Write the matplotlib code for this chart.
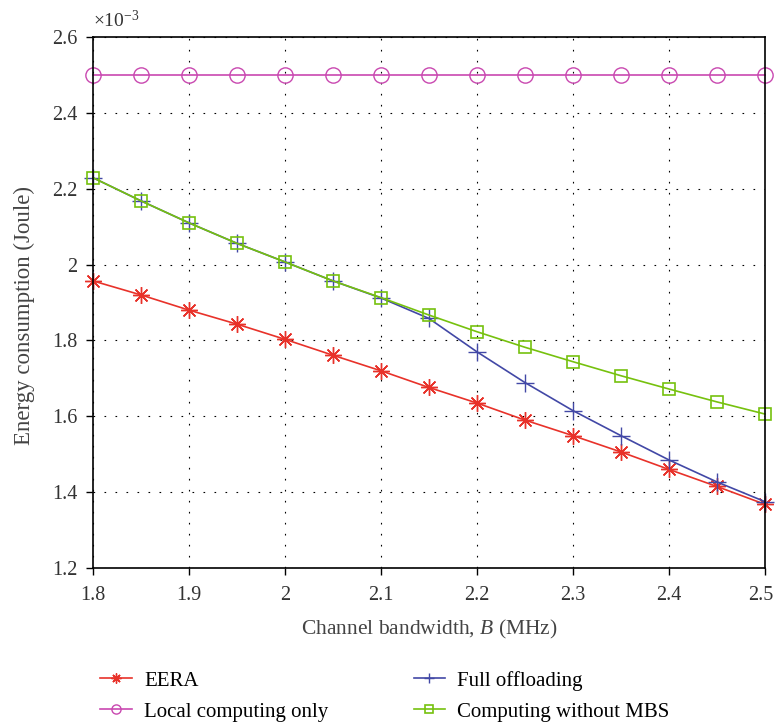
import numpy as np
import matplotlib
matplotlib.use("Agg")
import matplotlib.pyplot as plt
import matplotlib.transforms as mtransforms

plt.rcParams['font.family'] = ['Liberation Serif', 'DejaVu Serif']
plt.rcParams['mathtext.fontset'] = 'custom'
plt.rcParams['mathtext.rm'] = 'Liberation Serif'
plt.rcParams['mathtext.it'] = 'Liberation Serif:italic'

# bandwidth (MHz)
B = [1.80, 1.85, 1.90, 1.95, 2.00, 2.05, 2.10, 2.15, 2.20, 2.25, 2.30, 2.35, 2.40, 2.45, 2.50]

# energy consumption (x1e-3 Joule)
eera = [1.957, 1.920, 1.880, 1.843, 1.803, 1.761, 1.720, 1.676, 1.635, 1.590,
        1.549, 1.506, 1.460, 1.415, 1.368]
local = [2.5] * 15
full = [2.229, 2.168, 2.110, 2.056, 2.007, 1.957, 1.912, 1.858, 1.770, 1.689,
        1.615, 1.549, 1.485, 1.427, 1.375]
no_mbs = [2.229, 2.168, 2.110, 2.056, 2.007, 1.957, 1.913, 1.867, 1.823, 1.782,
          1.744, 1.707, 1.672, 1.638, 1.606]

fig = plt.figure(figsize=(7.75, 7.26), dpi=100)
ax = fig.add_axes([0.12, 0.2176, 0.867, 0.7314])

red = '#e8322a'
mag = '#c948b0'
blue = '#4248a6'
green = '#76c10e'

ax.plot(B, eera, color=red, lw=1.2, marker=(8, 2, 0), ms=12, mew=1.0, label='EERA',
        clip_on=False)
ax.plot(B, local, color=mag, lw=1.2, marker='o', ms=11, mfc='none', mew=1.0,
        label='Local computing only', clip_on=False)
ax.plot(B, full, color=blue, lw=1.2, marker='+', ms=13, mew=1.0, label='Full offloading',
        clip_on=False)
ax.plot(B, no_mbs, color=green, lw=1.2, marker='s', ms=9, mfc='none', mew=1.2,
        label='Computing without MBS', clip_on=False)

ax.set_xlim(1.8, 2.5)
ax.set_ylim(1.2, 2.6)
ax.set_xticks([1.8, 1.9, 2.0, 2.1, 2.2, 2.3, 2.4, 2.5])
ax.set_xticklabels(['1.8', '1.9', '2', '2.1', '2.2', '2.3', '2.4', '2.5'])
ax.set_yticks([1.2, 1.4, 1.6, 1.8, 2.0, 2.2, 2.4, 2.6])
ax.set_yticklabels(['1.2', '1.4', '1.6', '1.8', '2', '2.2', '2.4', '2.6'])
ax.tick_params(labelsize=14.5, labelcolor='#333333', color='black', direction='out',
               length=5, width=1, top=False, right=False)
ax.tick_params(axis='x', pad=8)
ax.tick_params(axis='y', pad=6)
for s in ax.spines.values():
    s.set_linewidth(1.2)
    s.set_color('black')

# nudge the last x label so it stays inside the figure
last = ax.get_xticklabels()[-1]
last.set_transform(last.get_transform() +
                   mtransforms.ScaledTranslation(-4 / 100, 0, fig.dpi_scale_trans))

ax.grid(True, color='black', lw=0.8, linestyle=(0, (1.5, 8.4)))

ax.set_xlabel('Channel bandwidth, $\\mathit{B}$ (MHz)', fontsize=15.5, color='#444444',
              labelpad=9)
ax.set_ylabel('Energy consumption (Joule)', fontsize=16.5, color='#444444')
ax.yaxis.set_label_coords(-0.087, 0.475)

ax.text(0.0, 1.012, '$\\times$10$^{-3}$', transform=ax.transAxes, fontsize=14,
        color='#333333', ha='left', va='bottom')

ax.legend(loc='upper left', bbox_to_anchor=(-0.017, -0.158), ncol=2, frameon=False,
          fontsize=15, markerscale=0.6, handlelength=1.5, columnspacing=4.1,
          labelspacing=0.55, handletextpad=0.6)

fig.savefig('out.png', dpi=100)
